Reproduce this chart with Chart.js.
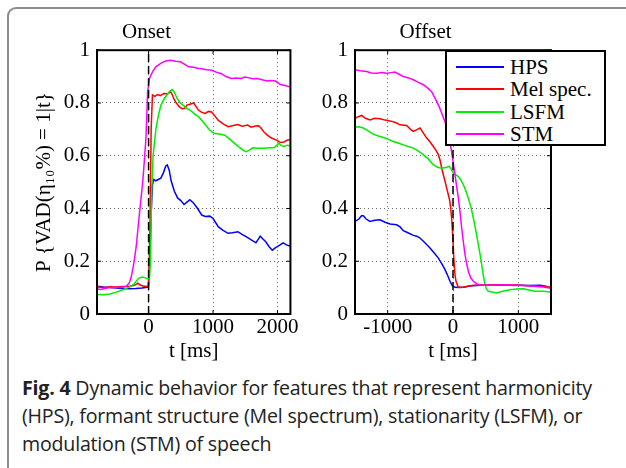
<!DOCTYPE html>
<html>
<head>
<meta charset="utf-8">
<script src="https://cdn.jsdelivr.net/npm/chart.js@4.4.0/dist/chart.umd.min.js"></script>
<style>
  html, body { margin: 0; padding: 0; background: #fff; }
  body { width: 626px; height: 468px; position: relative; overflow: hidden; }
  .frame {
    position: absolute; left: 7px; top: 7px; width: 700px; height: 520px;
    border-top: 2px solid #8c8c8c; border-left: 2px solid #8c8c8c;
    border-top-left-radius: 9px;
  }
  .plot { position: absolute; top: 0; }
  .legend {
    position: absolute; left: 445px; top: 50px; width: 157px; height: 92px;
    border: 2px solid #000; background: #fff;
    font-family: "Liberation Serif", "Times New Roman", serif; font-size: 21px;
  }
  .legend .row { position: absolute; left: 0; height: 22px; width: 160px; }
  .legend .swatch { position: absolute; left: 9px; width: 48px; height: 2px; top: 10px; }
  .legend .label { position: absolute; left: 63px; top: 0; line-height: 22px; white-space: nowrap; }
  .caption {
    position: absolute; left: 22px; top: 374px; width: 610px;
    font-family: "Open Sans", "Noto Sans", sans-serif; font-size: 19.6px; line-height: 28px;
    color: #222; white-space: nowrap; letter-spacing: -0.2px;
  }
  .caption b { font-weight: 700; }
</style>
</head>
<body>
<div class="frame"></div>
<div class="plot" style="left:0px"><canvas id="onsetChart" width="300" height="370"></canvas></div>
<div class="plot" style="left:300px"><canvas id="offsetChart" width="326" height="370"></canvas></div>
<div class="legend" id="legend"></div>
<div class="caption">
  <b>Fig. 4</b> Dynamic behavior for features that represent harmonicity<br>
  (HPS), formant structure (Mel spectrum), stationarity (LSFM), or<br>
  modulation (STM) of speech
</div>

<script>
const seriesNames = ["HPS", "Mel spec.", "LSFM", "STM"];
const seriesColors = ["#0000ff", "#ff0000", "#00ee00", "#ff00ff"];

const probTicks = [0, 0.2, 0.4, 0.6, 0.8, 1];
const onsetTicks = [0, 1000, 2000];
const offsetTicks = [-1000, 0, 1000];

// speech start / end marker
const markerLine = [[0, 0], [0, 1]];

// [t in ms, probability]
const onsetHps = [[-800,0.105],[-700,0.102],[-600,0.1],[-500,0.099],[-400,0.097],[-300,0.096],[-200,0.097],[-100,0.099],[-5,0.102],[20,0.22],[40,0.38],[60,0.49],[80,0.51],[110,0.505],[150,0.51],[190,0.515],[230,0.535],[265,0.56],[290,0.565],[320,0.545],[350,0.505],[400,0.465],[450,0.44],[500,0.43],[550,0.415],[600,0.425],[640,0.433],[700,0.42],[760,0.4],[825,0.375],[880,0.37],[950,0.371],[1000,0.362],[1080,0.331],[1150,0.318],[1232,0.306],[1300,0.308],[1385,0.312],[1450,0.302],[1512,0.293],[1580,0.283],[1665,0.27],[1700,0.283],[1731,0.295],[1770,0.285],[1817,0.274],[1870,0.255],[1919,0.242],[1960,0.25],[1995,0.255],[2040,0.262],[2087,0.27],[2140,0.262],[2200,0.257]];
const onsetMel = [[-800,0.103],[-700,0.1],[-600,0.103],[-500,0.102],[-400,0.104],[-300,0.105],[-230,0.108],[-190,0.113],[-167,0.117],[-130,0.11],[-90,0.106],[-40,0.104],[0,0.106],[20,0.3],[40,0.7],[60,0.83],[100,0.825],[137,0.832],[180,0.828],[239,0.836],[300,0.835],[342,0.843],[370,0.83],[392,0.815],[430,0.8],[480,0.785],[519,0.778],[560,0.78],[595,0.792],[640,0.795],[698,0.8],[740,0.785],[774,0.773],[820,0.765],[876,0.76],[930,0.768],[977,0.766],[1030,0.75],[1079,0.735],[1150,0.722],[1232,0.71],[1300,0.714],[1385,0.718],[1450,0.712],[1537,0.716],[1590,0.708],[1640,0.712],[1700,0.714],[1740,0.706],[1790,0.69],[1843,0.678],[1900,0.668],[1945,0.663],[2000,0.657],[2046,0.65],[2100,0.652],[2148,0.659],[2200,0.662]];
const onsetLsfm = [[-800,0.074],[-700,0.073],[-600,0.076],[-500,0.083],[-400,0.092],[-300,0.102],[-230,0.112],[-190,0.125],[-150,0.136],[-100,0.14],[-50,0.137],[-10,0.133],[15,0.14],[30,0.2],[46,0.45],[70,0.6],[113,0.7],[150,0.75],[189,0.79],[240,0.815],[290,0.832],[330,0.845],[366,0.851],[400,0.84],[443,0.817],[490,0.8],[545,0.79],[600,0.778],[660,0.77],[720,0.757],[774,0.748],[850,0.727],[927,0.703],[980,0.69],[1029,0.684],[1100,0.682],[1182,0.678],[1260,0.663],[1334,0.647],[1420,0.63],[1470,0.62],[1512,0.615],[1560,0.62],[1614,0.63],[1700,0.628],[1792,0.628],[1870,0.63],[1945,0.63],[1990,0.64],[2021,0.647],[2060,0.638],[2100,0.635],[2150,0.64],[2200,0.638]];
const onsetStm = [[-800,0.095],[-740,0.093],[-680,0.097],[-600,0.1],[-500,0.1],[-400,0.101],[-345,0.105],[-300,0.118],[-269,0.14],[-230,0.19],[-192,0.255],[-142,0.38],[-91,0.5],[-60,0.6],[-40,0.67],[-15,0.84],[10,0.89],[36,0.905],[70,0.922],[113,0.937],[200,0.952],[280,0.96],[342,0.962],[420,0.958],[494,0.956],[560,0.946],[621,0.937],[698,0.935],[760,0.932],[825,0.93],[900,0.926],[977,0.924],[1050,0.917],[1130,0.911],[1200,0.9],[1283,0.893],[1360,0.895],[1435,0.893],[1490,0.898],[1537,0.896],[1610,0.892],[1690,0.893],[1760,0.888],[1843,0.883],[1900,0.885],[1970,0.883],[2046,0.87],[2120,0.866],[2200,0.86]];

const offsetHps = [[-1500,0.351],[-1440,0.36],[-1400,0.372],[-1372,0.372],[-1330,0.36],[-1270,0.351],[-1200,0.355],[-1117,0.357],[-1040,0.348],[-964,0.341],[-862,0.338],[-810,0.33],[-760,0.316],[-690,0.308],[-607,0.298],[-555,0.295],[-505,0.288],[-430,0.27],[-352,0.25],[-290,0.232],[-224,0.212],[-170,0.19],[-122,0.168],[-80,0.145],[-46,0.124],[-10,0.107],[31,0.101],[100,0.1],[158,0.101],[250,0.106],[413,0.109],[550,0.11],[719,0.111],[850,0.109],[1026,0.109],[1150,0.108],[1332,0.109],[1420,0.105],[1500,0.098]];
const offsetMel = [[-1500,0.742],[-1450,0.748],[-1398,0.753],[-1340,0.742],[-1270,0.736],[-1200,0.742],[-1117,0.74],[-1040,0.735],[-964,0.732],[-880,0.726],[-811,0.717],[-709,0.715],[-650,0.7],[-607,0.692],[-560,0.698],[-505,0.705],[-450,0.685],[-403,0.667],[-350,0.652],[-301,0.635],[-260,0.62],[-224,0.604],[-195,0.58],[-173,0.553],[-145,0.525],[-122,0.503],[-95,0.475],[-71,0.452],[-50,0.43],[-36,0.402],[-20,0.36],[-5,0.3],[15,0.2],[30,0.15],[46,0.124],[82,0.101],[158,0.101],[230,0.105],[311,0.109],[450,0.11],[617,0.111],[800,0.11],[1026,0.109],[1180,0.107],[1332,0.105],[1420,0.104],[1500,0.101]];
const offsetLsfm = [[-1500,0.708],[-1440,0.71],[-1372,0.705],[-1300,0.694],[-1219,0.682],[-1140,0.675],[-1066,0.669],[-990,0.662],[-913,0.654],[-840,0.648],[-760,0.641],[-690,0.635],[-607,0.629],[-530,0.617],[-454,0.604],[-380,0.588],[-301,0.566],[-240,0.556],[-173,0.553],[-110,0.555],[-60,0.56],[-30,0.55],[5,0.534],[40,0.528],[82,0.521],[120,0.508],[158,0.49],[200,0.465],[235,0.439],[275,0.405],[311,0.364],[350,0.315],[388,0.263],[415,0.225],[439,0.187],[465,0.145],[490,0.111],[515,0.093],[541,0.086],[600,0.083],[668,0.08],[760,0.086],[872,0.092],[970,0.095],[1077,0.096],[1180,0.09],[1255,0.086],[1380,0.086],[1500,0.083]];
const offsetStm = [[-1500,0.926],[-1420,0.922],[-1321,0.919],[-1250,0.914],[-1168,0.913],[-1090,0.915],[-1015,0.913],[-950,0.915],[-888,0.917],[-820,0.908],[-760,0.9],[-680,0.895],[-607,0.888],[-530,0.878],[-454,0.869],[-390,0.857],[-327,0.843],[-290,0.825],[-250,0.806],[-210,0.785],[-173,0.761],[-140,0.74],[-107,0.717],[-70,0.675],[-31,0.629],[0,0.58],[31,0.528],[55,0.485],[82,0.44],[108,0.385],[133,0.326],[160,0.27],[184,0.225],[210,0.19],[235,0.162],[270,0.138],[311,0.124],[360,0.115],[413,0.109],[520,0.11],[617,0.109],[720,0.11],[821,0.111],[920,0.108],[1026,0.109],[1130,0.107],[1230,0.105],[1380,0.102],[1500,0.098]];

const serif = "'Liberation Serif', 'Times New Roman', serif";

// black box round the plot area plus matlab style inward ticks
const boxPlugin = {
  id: "box",
  afterDatasetsDraw(chart) {
    const { ctx, chartArea: a, scales } = chart;
    ctx.save();
    ctx.strokeStyle = "#000";
    ctx.lineWidth = 1;
    scales.x.ticks.forEach((t) => {
      const x = scales.x.getPixelForValue(t.value);
      ctx.beginPath();
      ctx.moveTo(x, a.bottom); ctx.lineTo(x, a.bottom - 4);
      ctx.moveTo(x, a.top); ctx.lineTo(x, a.top + 4);
      ctx.stroke();
    });
    scales.y.ticks.forEach((t) => {
      const y = scales.y.getPixelForValue(t.value);
      ctx.beginPath();
      ctx.moveTo(a.left, y); ctx.lineTo(a.left + 4, y);
      ctx.moveTo(a.right, y); ctx.lineTo(a.right - 4, y);
      ctx.stroke();
    });
    ctx.lineWidth = 2;
    ctx.strokeRect(a.left, a.top, a.right - a.left, a.bottom - a.top);
    ctx.restore();
  },
};

function makeDatasets(series) {
  const sets = series.map((data, i) => ({
    label: seriesNames[i],
    data: data,
    borderColor: seriesColors[i],
    borderWidth: 1.5,
    pointRadius: 0,
    tension: 0,
    fill: false,
    order: 4 - i,
  }));
  sets.push({
    label: "t = 0",
    data: markerLine,
    borderColor: "#000",
    borderWidth: 1.5,
    borderDash: [8, 4],
    pointRadius: 0,
    order: 0,
  });
  return sets;
}

function renderPlot(canvasId, title, series, xMin, xMax, xTicks, yWidth, rightPad, yTitle) {
  return new Chart(document.getElementById(canvasId), {
    type: "line",
    data: { datasets: makeDatasets(series) },
    options: {
      responsive: false,
      animation: false,
      devicePixelRatio: 1,
      layout: { padding: { left: 0, right: rightPad, top: 0, bottom: 0 }, autoPadding: false },
      plugins: {
        legend: { display: false },
        tooltip: { enabled: false },
        title: {
          display: true,
          text: title,
          color: "#000",
          font: { family: serif, size: 21, weight: "normal" },
          padding: { top: 20, bottom: 5 },
        },
      },
      scales: {
        x: {
          type: "linear",
          min: xMin,
          max: xMax,
          afterBuildTicks: (scale) => { scale.ticks = xTicks.map((v) => ({ value: v })); },
          afterFit: (scale) => { scale.height = 56; },
          ticks: {
            color: "#000",
            padding: 1,
            maxRotation: 0,
            font: { family: serif, size: 21 },
            callback: (v) => String(v),
          },
          grid: { color: "rgba(0,0,0,0.6)", lineWidth: 1, drawTicks: false },
          border: { color: "#000", width: 2, dash: [1, 3] },
          title: {
            display: true,
            text: "t [ms]",
            color: "#000",
            font: { family: serif, size: 21 },
            padding: { top: 0, bottom: 6 },
          },
        },
        y: {
          min: 0,
          max: 1,
          afterBuildTicks: (scale) => { scale.ticks = probTicks.map((v) => ({ value: v })); },
          afterFit: (scale) => { scale.width = yWidth; },
          ticks: {
            color: "#000",
            padding: 7,
            font: { family: serif, size: 21 },
            callback: (v) => String(v),
          },
          grid: { color: "rgba(0,0,0,0.6)", lineWidth: 1, drawTicks: false },
          border: { color: "#000", width: 2, dash: [1, 3] },
          title: {
            display: !!yTitle,
            text: yTitle || "",
            color: "#000",
            font: { family: serif, size: 21 },
            padding: { top: 32, bottom: 0 },
          },
        },
      },
    },
    plugins: [boxPlugin],
  });
}

renderPlot("onsetChart", "Onset", [onsetHps, onsetMel, onsetLsfm, onsetStm],
  -800, 2200, onsetTicks, 97, 7, "P {VAD(η₁₀%) = 1|t}");
renderPlot("offsetChart", "Offset", [offsetHps, offsetMel, offsetLsfm, offsetStm],
  -1500, 1500, offsetTicks, 55, 75, null);

// legend box drawn over the offset plot
const legendEl = document.getElementById("legend");
seriesNames.forEach((name, i) => {
  const row = document.createElement("div");
  row.className = "row";
  row.style.top = (4 + i * 22.4) + "px";
  row.innerHTML = '<div class="swatch" style="background:' + seriesColors[i] + '"></div>' +
    '<div class="label">' + name + "</div>";
  legendEl.appendChild(row);
});
</script>
</body>
</html>
